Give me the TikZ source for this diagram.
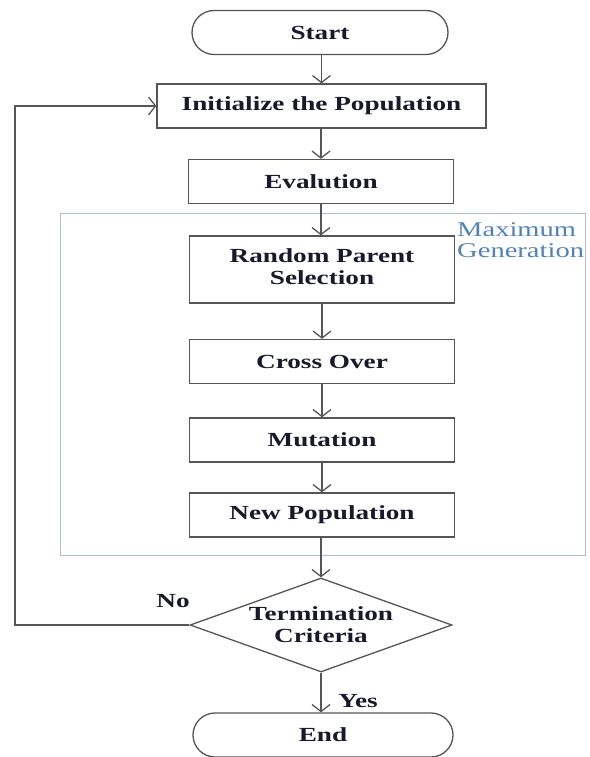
\documentclass[tikz,border=0pt]{standalone}
\usepackage{fontspec}
\usepackage{graphicx}
\setmainfont{Liberation Serif}
\usetikzlibrary{arrows.meta,shapes.geometric}
\definecolor{linec}{RGB}{85,85,85}
\definecolor{txtc}{RGB}{25,25,45}
\definecolor{boxblue}{RGB}{165,195,225}
\definecolor{genblue}{RGB}{80,130,190}
\newcommand\sx[1]{\scalebox{1.36}[1]{#1}}
\newcommand\twol[2]{\sx{\begin{tabular}{@{}c@{}}#1\\#2\end{tabular}}}
\tikzset{
  flowline/.style={draw=linec, line width=1.3pt},
  arr/.style={flowline, -{Straight Barb[length=7pt,width=18pt,line width=1.3pt]}},
  txt/.style={font=\fontsize{20}{22}\selectfont\bfseries, text=txtc, inner sep=0pt},
  procbox/.style={txt, draw=linec, line width=1.3pt, rectangle, minimum height=44pt},
  term/.style={txt, draw=linec, line width=1.3pt, rectangle, rounded corners=22pt, minimum height=44pt},
}
\begin{document}
\begin{tikzpicture}[x=1pt,y=-1pt]
\useasboundingbox (0,0) rectangle (589,757);
% maximum generation frame
\draw[boxblue, line width=1pt] (60,213) rectangle (585,555);
\node[font=\fontsize{21}{21}\selectfont, text=genblue, inner sep=0pt, anchor=north west, align=left] (maxgen) at (457,222) {\sx{\begin{tabular}{@{}l@{}}Maximum\\Generation\end{tabular}}};
% nodes
\node[term, minimum width=256pt] (start) at (320,32.5) {\sx{Start}};
\node[procbox, minimum width=329pt] (init) at (321.5,106) {\sx{Initialize the Population}};
\node[procbox, minimum width=265pt] (eval) at (321,181.5) {\sx{Evalution}};
\node[procbox, minimum width=265pt, minimum height=67pt] (rps) at (322,269.5) {\twol{Random Parent}{Selection}};
\node[procbox, minimum width=265pt] (cross) at (322,361.5) {\sx{Cross Over}};
\node[procbox, minimum width=265pt] (mut) at (322,440) {\sx{Mutation}};
\node[procbox, minimum width=265pt] (newpop) at (322,515) {\sx{New Population}};
\node[diamond, draw=linec, line width=1.3pt, minimum width=262pt, minimum height=94pt, inner sep=0pt] (crit) at (321,625) {};
\node[txt] (crittxt) at (321,627) {\twol{Termination}{Criteria}};
\node[term, minimum width=260pt] (end) at (323,735) {\sx{End}};
% connectors
\draw[arr] (start.south -| init.north) -- (init.north);
\draw[arr] (init.south -| eval.north) -- (eval.north);
\draw[arr] (eval.south) -- (eval.south |- rps.north);
\draw[arr] (rps.south) -- (cross.north);
\draw[arr] (cross.south) -- (mut.north);
\draw[arr] (mut.south) -- (newpop.south |- mut.south) -- (newpop.north);
\draw[arr] (newpop.south -| crit.north) -- (crit.north);
\draw[arr] (crit.south) -- (crit.south |- end.north);
\coordinate (loopc) at (15,625);
\draw[arr] (crit.west) -- (loopc) |- (init.west);
\node[txt] (no) at (173,601) {\sx{No}};
\node[txt] (yes) at (358,701) {\sx{Yes}};
\end{tikzpicture}
\end{document}
